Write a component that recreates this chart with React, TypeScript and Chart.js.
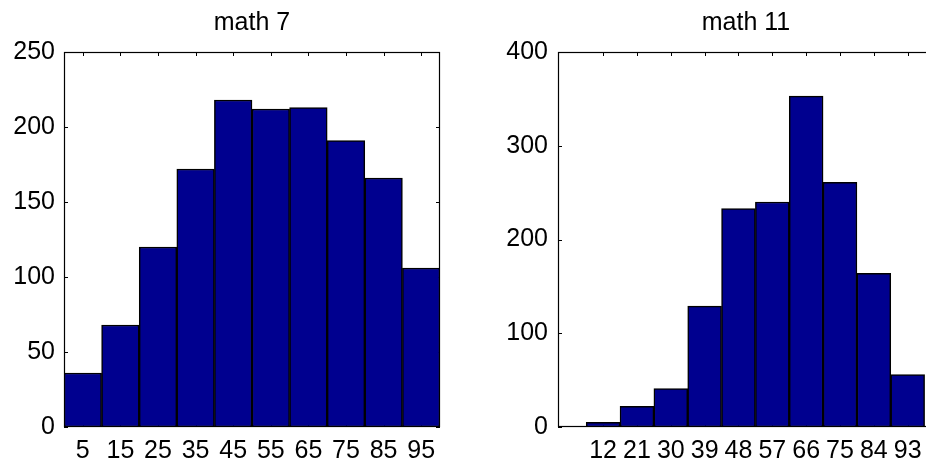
import React, { useEffect, useRef } from "react";
import { Chart, registerables } from "chart.js";

Chart.register(...registerables);

// ---- data ----
const math7Centers = [5, 15, 25, 35, 45, 55, 65, 75, 85, 95];
const math7Counts = [36, 68, 120, 172, 218, 212, 213, 191, 166, 106];
const math7YTicks = [0, 50, 100, 150, 200, 250];

const math11Centers = [12, 21, 30, 39, 48, 57, 66, 75, 84, 93];
const math11Counts = [5, 22, 41, 129, 233, 240, 353, 261, 164, 56];
const math11YTicks = [0, 100, 200, 300, 400];

const titles = ["math 7", "math 11"];

const FONT = "'Liberation Sans', Arial, Helvetica, sans-serif";
const BAR_FILL = "#00008F";

const framePlugin = {
  id: "frame",
  beforeDatasetsDraw(chart: any) {
    const { ctx, chartArea: a, scales } = chart;
    const L = 4;
    ctx.save();
    ctx.strokeStyle = "#000";
    ctx.lineWidth = 1;
    ctx.beginPath();
    scales.x.ticks.forEach((t: any) => {
      const px = Math.round(scales.x.getPixelForValue(t.value)) + 0.5;
      ctx.moveTo(px, a.top);
      ctx.lineTo(px, a.top + L);
      ctx.moveTo(px, a.bottom);
      ctx.lineTo(px, a.bottom - L);
    });
    scales.y.ticks.forEach((t: any) => {
      const py = Math.round(scales.y.getPixelForValue(t.value)) + 0.5;
      ctx.moveTo(a.left, py);
      ctx.lineTo(a.left + L, py);
      ctx.moveTo(a.right, py);
      ctx.lineTo(a.right - L, py);
    });
    ctx.stroke();
    ctx.restore();
  },
  afterDatasetsDraw(chart: any, _args: any, opts: any) {
    const { ctx, chartArea: a } = chart;
    ctx.save();
    ctx.strokeStyle = "#000";
    ctx.lineWidth = 1.2;
    const l = Math.round(a.left) + 0.5;
    const t = Math.round(a.top) + 0.5;
    const r = Math.round(a.right) - 0.5;
    const b = Math.round(a.bottom) - 0.5;
    ctx.strokeRect(l, t, r - l, b - t);
    // title
    ctx.fillStyle = "#000";
    ctx.font = `25px ${FONT}`;
    ctx.textAlign = "center";
    ctx.textBaseline = "alphabetic";
    ctx.fillText(opts.text || "", (a.left + a.right) / 2, 30);
    ctx.restore();
  },
};

function HistChart(props: {
  centers: number[];
  counts: number[];
  yTicks: number[];
  title: string;
  left: number;
  width: number;
  yAxisWidth: number;
  padRight: number;
  labelPad: number;
}) {
  const ref = useRef<HTMLCanvasElement>(null);
  useEffect(() => {
    const canvas = ref.current!;
    const { centers, counts, yTicks } = props;
    const chart = new Chart(canvas, {
      type: "bar",
      data: {
        datasets: [
          {
            data: centers.map((c, i) => ({ x: c, y: counts[i] })),
            backgroundColor: BAR_FILL,
            borderColor: "#000",
            borderWidth: 1.5,
            borderSkipped: false,
            barPercentage: 1,
            categoryPercentage: 1,
          } as any,
        ],
      },
      options: {
        animation: false,
        responsive: false,
        devicePixelRatio: 1,
        layout: { padding: { top: 52, right: props.padRight, bottom: 0, left: 0 } },
        plugins: {
          legend: { display: false },
          tooltip: { enabled: false },
          title: { display: false },
          frame: { text: props.title },
        } as any,
        scales: {
          x: {
            type: "linear",
            offset: false,
            min: 0,
            max: 100,
            grid: { display: false, drawTicks: false, offset: false },
            border: { display: false },
            afterBuildTicks: (s: any) => {
              s.ticks = centers.map((v) => ({ value: v }));
            },
            afterFit: (s: any) => {
              s.height = 41;
            },
            ticks: {
              autoSkip: false,
              maxRotation: 0,
              padding: 9,
              color: "#000",
              font: { family: FONT, size: 25 },
              callback: (v: any) => String(v),
            },
          },
          y: {
            type: "linear",
            min: yTicks[0],
            max: yTicks[yTicks.length - 1],
            grid: { display: false, drawTicks: false },
            border: { display: false },
            afterBuildTicks: (s: any) => {
              s.ticks = yTicks.map((v) => ({ value: v }));
            },
            afterFit: (s: any) => {
              s.width = props.yAxisWidth;
            },
            ticks: {
              padding: props.labelPad,
              color: "#000",
              font: { family: FONT, size: 25 },
              callback: (v: any) => String(v),
            },
          },
        },
      },
      plugins: [framePlugin as any],
    });
    return () => chart.destroy();
  }, []);
  return (
    <canvas
      ref={ref}
      width={props.width}
      height={468}
      style={{ position: "absolute", left: props.left, top: 0, width: props.width, height: 468 }}
    />
  );
}

export default function App() {
  return (
    <div
      style={{
        position: "fixed",
        left: 0,
        top: 0,
        width: 926,
        height: 468,
        overflow: "hidden",
        background: "#fff",
      }}
    >
      <HistChart
        centers={math7Centers}
        counts={math7Counts}
        yTicks={math7YTicks}
        title={titles[0]}
        left={0}
        width={460}
        yAxisWidth={64}
        padRight={20}
        labelPad={9}
      />
      <HistChart
        centers={math11Centers}
        counts={math11Counts}
        yTicks={math11YTicks}
        title={titles[1]}
        left={460}
        width={480}
        yAxisWidth={98}
        padRight={6}
        labelPad={10}
      />
    </div>
  );
}
